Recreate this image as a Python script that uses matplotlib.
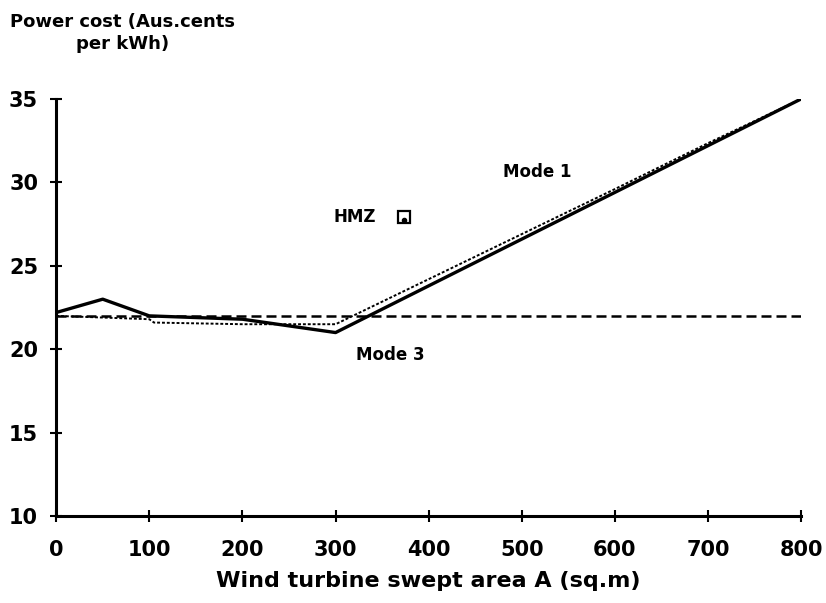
import numpy as np
import matplotlib
matplotlib.use("Agg")
import matplotlib.pyplot as plt

plt.rcParams['font.family'] = ['DejaVu Sans']
plt.rcParams['font.weight'] = 'bold'

# swept area (sq.m) and power cost (Aus.cents per kWh)
x_mode1 = [0, 50, 100, 200, 300, 400, 500, 600, 700, 800]
y_mode1 = [22.2, 23.0, 22.0, 21.8, 21.0, 23.8, 26.6, 29.4, 32.2, 35.0]

x_mode2 = [0, 100, 105, 200, 300, 400, 500, 600, 700, 800]
y_mode2 = [22.0, 21.8, 21.6, 21.5, 21.5, 24.2, 26.9, 29.6, 32.35, 35.0]

x_mode3 = [0, 800]
y_mode3 = [22.0, 22.0]

hmz_x, hmz_y = 373, 27.9

xticks = [0, 100, 200, 300, 400, 500, 600, 700, 800]
yticks = [10, 15, 20, 25, 30, 35]

fig = plt.figure(figsize=(8.26, 6.03), dpi=100)
ax = fig.add_axes([0.068, 0.144, 0.902, 0.692])

ax.plot(x_mode3, y_mode3, '--', color='black', lw=1.8, dashes=(4, 2))
ax.plot(x_mode2, y_mode2, '-', color='black', lw=1.4, dashes=(1.5, 1))
ax.plot(x_mode1, y_mode1, '-', color='black', lw=2.4)

ax.plot([hmz_x], [hmz_y], marker='s', ms=8, mfc='white', mec='black', mew=1.6)
ax.plot([hmz_x], [hmz_y - 0.15], marker='o', ms=3, color='black')
ax.text(hmz_x - 52, hmz_y, "HMZ", fontsize=12, ha='center', va='center')
ax.text(517, 30.6, "Mode 1", fontsize=12, ha='center', va='center')
ax.text(359, 19.65, "Mode 3", fontsize=12, ha='center', va='center')

ax.set_xlim(0, 800)
ax.set_ylim(10, 35)
ax.set_xticks(xticks)
ax.set_yticks(yticks)
ax.tick_params(direction='inout', length=8, width=1.5, labelsize=15)
ax.tick_params(axis='x', pad=13)
ax.tick_params(axis='y', pad=9)

for s in ['top', 'right']:
    ax.spines[s].set_visible(False)
for s in ['left', 'bottom']:
    ax.spines[s].set_linewidth(2.2)

ax.set_xlabel("Wind turbine swept area A (sq.m)", fontsize=16,
              fontweight='bold', labelpad=8)
fig.text(0.148, 0.945, "Power cost (Aus.cents\nper kWh)", fontsize=13,
         ha='center', va='center', linespacing=1.3)

fig.savefig("out.png", dpi=100)
